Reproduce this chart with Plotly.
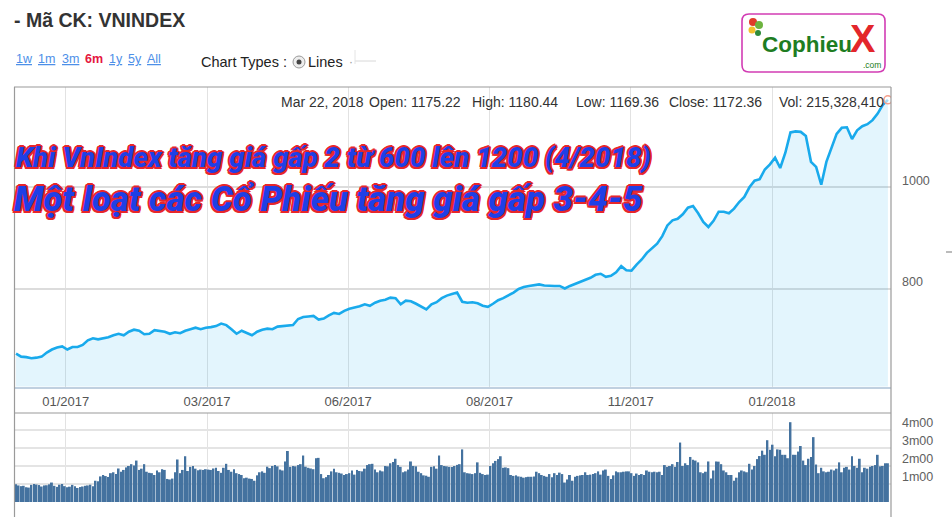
import plotly.graph_objects as go

W, H = 952, 517

# ---------------- data ----------------
title_text = "- Mã CK: VNINDEX"
range_links = ["1w", "1m", "3m", "6m", "1y", "5y", "All"]
active_range = "6m"
info_items = ["Mar 22, 2018", "Open: 1175.22", "High: 1180.44", "Low: 1169.36",
              "Close: 1172.36", "Vol: 215,328,410"]
headline_1 = "Khi VnIndex tăng giá gấp 2 từ 600 lên 1200 (4/2018)"
headline_2 = "Một loạt các Cổ Phiếu tăng giá gấp 3-4-5"

tick_labels = ["01/2017", "03/2017", "06/2017", "08/2017", "11/2017", "01/2018"]
tick_days = [19.4, 74.5, 129.5, 184.6, 239.7, 294.8]   # trading-day index

price_ticks = [800, 1000]
vol_ticks = [100, 200, 300, 400]                       # millions of shares
vol_tick_labels = ["1m00", "2m00", "3m00", "4m00"]

close_step = 2   # one close value every 2 trading days
close_values = [
    673, 667, 666, 664, 665, 667, 675, 681, 685, 687,
    681, 686, 686, 690, 699, 703, 701, 703, 705, 709,
    712, 709, 716, 720, 718, 711, 712, 719, 718, 716,
    712, 715, 713, 718, 721, 724, 721, 724, 725, 727,
    732, 729, 721, 712, 718, 713, 709, 716, 720, 722,
    721, 726, 727, 728, 729, 741, 745, 746, 747, 740,
    742, 748, 753, 751, 757, 761, 763, 766, 770, 767,
    773, 777, 779, 783, 782, 770, 777, 776, 771, 765,
    760, 770, 774, 782, 787, 790, 793, 775, 773, 774,
    772, 767, 765, 771, 778, 782, 787, 793, 800, 804,
    806, 807, 809, 807, 806, 806, 806, 801, 806, 810,
    813, 817, 822, 828, 830, 824, 826, 833, 845, 837,
    836, 848, 858, 871, 881, 889, 904, 925, 935, 938,
    947, 960, 963, 949, 932, 922, 934, 952, 952, 949,
    958, 971, 981, 1000, 1013, 1016, 1035, 1045, 1058, 1038,
    1068, 1108, 1110, 1109, 1101, 1050, 1040, 1005, 1050, 1079,
    1105, 1117, 1118, 1095, 1112, 1120, 1124, 1132, 1145, 1162,
    1172,
]

volume_millions = [
    98, 92, 88, 90, 82, 80, 95, 100, 97, 94,
    86, 92, 93, 98, 108, 90, 84, 96, 100, 88,
    82, 85, 95, 88, 78, 83, 86, 90, 92, 96,
    88, 118, 115, 142, 150, 144, 139, 160, 165, 155,
    186, 168, 178, 192, 200, 210, 202, 230, 178, 185,
    210, 168, 162, 160, 150, 175, 165, 182, 178, 128,
    125, 130, 165, 236, 160, 178, 254, 172, 195, 200,
    185, 176, 180, 178, 182, 180, 178, 186, 190, 172,
    162, 190, 212, 178, 168, 182, 160, 155, 150, 132,
    135, 130, 128, 118, 148, 165, 170, 162, 196, 188,
    200, 205, 198, 180, 175, 225, 283, 195, 200, 198,
    205, 210, 258, 196, 190, 186, 182, 243, 245, 155,
    132, 138, 150, 170, 185, 165, 162, 158, 150, 155,
    160, 175, 152, 178, 172, 170, 185, 205, 210, 212,
    180, 165, 175, 170, 200, 198, 215, 222, 240, 205,
    195, 165, 170, 180, 225, 200, 198, 168, 160, 148,
    146, 140, 195, 198, 185, 258, 205, 200, 198, 195,
    194, 200, 206, 210, 292, 165, 160, 158, 155, 160,
    220, 162, 155, 150, 152, 200, 215, 228, 238, 254,
    190, 192, 188, 150, 145, 148, 142, 140, 135, 138,
    140, 140, 142, 168, 160, 150, 145, 140, 155, 138,
    160, 150, 163, 155, 108, 125, 150, 118, 140, 145,
    148, 150, 165, 150, 152, 155, 160, 170, 152, 175,
    180, 145, 128, 148, 170, 165, 165, 168, 170, 170,
    160, 145, 158, 150, 155, 150, 175, 168, 165, 168,
    165, 168, 150, 205, 195, 200, 210, 195, 222, 330,
    200, 215, 205, 250, 235, 230, 220, 165, 160, 168,
    225, 130, 175, 225, 224, 210, 175, 165, 150, 150,
    118, 135, 165, 175, 170, 165, 212, 180, 200, 238,
    255, 285, 262, 343, 290, 318, 254, 292, 290, 262,
    262, 243, 443, 262, 262, 280, 311, 230, 205, 240,
    250, 360, 208, 160, 190, 170, 165, 168, 180, 175,
    185, 220, 165, 190, 195, 180, 254, 200, 190, 240,
    165, 190, 185, 195, 200, 205, 262, 198, 200, 215,
    215,
]

close_days = [i * close_step for i in range(len(close_values))]
volume_days = list(range(len(volume_millions)))

# ---------------- helpers (pixel -> paper) ----------------
def fx(px):
    return px / W

def fy(py):
    return 1 - py / H

FONT = "Liberation Sans, Arial, sans-serif"

fig = go.Figure()

fig.add_trace(go.Scatter(
    x=close_days, y=close_values, mode="lines",
    line=dict(color="#19AAEC", width=2.6),
    fill="tozeroy", fillcolor="rgba(26,173,238,0.12)",
    xaxis="x", yaxis="y", hoverinfo="skip", showlegend=False,
))
fig.add_trace(go.Scatter(
    x=[close_days[-1]], y=[close_values[-1]], mode="markers",
    marker=dict(size=8, color="rgba(255,255,255,0.6)",
                line=dict(color="#F4A08C", width=1.5)),
    xaxis="x", yaxis="y", hoverinfo="skip", showlegend=False,
))
fig.add_trace(go.Bar(
    x=volume_days, y=volume_millions, width=0.75,
    marker=dict(color="#44729F", line=dict(width=0)),
    xaxis="x2", yaxis="y2", hoverinfo="skip", showlegend=False,
))

x_dom = [fx(15), fx(891)]
x_range = [-0.4, 341.2]

fig.update_layout(
    width=W, height=H, margin=dict(l=0, r=0, t=0, b=0),
    paper_bgcolor="white", plot_bgcolor="white", template="none",
    font=dict(family=FONT, color="#333333"),
    bargap=0.25,
    xaxis=dict(domain=x_dom, range=x_range, anchor="y",
               tickvals=tick_days, ticktext=tick_labels,
               showgrid=True, gridcolor="#E2E2E2", gridwidth=1,
               showline=True, linecolor="#C0D0E0", linewidth=1.5,
               ticks="", zeroline=False, ticklabelstandoff=2,
               tickfont=dict(size=13, color="#555555", family=FONT)),
    yaxis=dict(domain=[fy(386.5), fy(87)], range=[608.3, 1197.2], anchor="x",
               side="right", tickvals=price_ticks,
               showgrid=True, gridcolor="#DCDCDC", gridwidth=1.5,
               zeroline=False, showline=False, ticks="",
               ticklabelstandoff=10, ticklabelshift=-7,
               tickfont=dict(size=12.5, color="#606060", family=FONT)),
    xaxis2=dict(domain=x_dom, range=x_range, anchor="y2",
                tickvals=tick_days, showticklabels=False,
                showgrid=True, gridcolor="#E2E2E2", gridwidth=1,
                showline=False, ticks="", zeroline=False),
    yaxis2=dict(domain=[fy(502), fy(413)], range=[0, 494], anchor="x2",
                side="right", tickvals=vol_ticks, ticktext=vol_tick_labels,
                showgrid=True, gridcolor="#E4E4E4", gridwidth=2,
                zeroline=False, showline=False, ticks="",
                ticklabelstandoff=10, ticklabelshift=-7,
                tickfont=dict(size=12.5, color="#606060", family=FONT)),
)

shapes = []
frame = dict(color="#9A9A9A", width=1.2)
shapes.append(dict(type="line", xref="paper", yref="paper", x0=fx(14), x1=fx(891), y0=fy(87), y1=fy(87), line=frame))
shapes.append(dict(type="line", xref="paper", yref="paper", x0=fx(14.5), x1=fx(14.5), y0=fy(87), y1=fy(517), line=frame))
shapes.append(dict(type="line", xref="paper", yref="paper", x0=fx(891), x1=fx(891), y0=fy(87), y1=fy(517), line=frame))
shapes.append(dict(type="line", xref="paper", yref="paper", x0=fx(14), x1=fx(891), y0=fy(413), y1=fy(413), line=frame))
# small dash at far right
shapes.append(dict(type="line", xref="paper", yref="paper", x0=fx(946), x1=fx(952), y0=fy(252), y1=fy(252), line=dict(color="#BBBBBB", width=2)))

# radio button
shapes.append(dict(type="circle", xref="paper", yref="paper", x0=fx(293), x1=fx(305), y0=fy(68), y1=fy(56),
                   line=dict(color="#9A9A9A", width=1), fillcolor="#EDEDED"))
shapes.append(dict(type="circle", xref="paper", yref="paper", x0=fx(296.5), x1=fx(301.5), y0=fy(64.5), y1=fy(59.5),
                   line=dict(width=0), fillcolor="#444444"))
shapes.append(dict(type="line", xref="paper", yref="paper", x0=fx(355), x1=fx(376), y0=fy(61), y1=fy(61), line=dict(color="#D8D8D8", width=1)))
shapes.append(dict(type="line", xref="paper", yref="paper", x0=fx(355), x1=fx(355), y0=fy(50), y1=fy(64), line=dict(color="#E4E4E4", width=1)))

# logo rounded box
def rounded_rect(x0, y0, x1, y1, r):
    X = lambda v: fx(v)
    Y = lambda v: fy(v)
    return (f"M {X(x0+r)},{Y(y0)} L {X(x1-r)},{Y(y0)} Q {X(x1)},{Y(y0)} {X(x1)},{Y(y0+r)} "
            f"L {X(x1)},{Y(y1-r)} Q {X(x1)},{Y(y1)} {X(x1-r)},{Y(y1)} "
            f"L {X(x0+r)},{Y(y1)} Q {X(x0)},{Y(y1)} {X(x0)},{Y(y1-r)} "
            f"L {X(x0)},{Y(y0+r)} Q {X(x0)},{Y(y0)} {X(x0+r)},{Y(y0)} Z")

shapes.append(dict(type="path", xref="paper", yref="paper", path=rounded_rect(742, 14, 885, 72, 7),
                   line=dict(color="#D23CB4", width=1.6), fillcolor="white"))
# logo icon (small leaves)
for (cx, cy, r, col) in [(753, 22, 4, "#E03A2A"), (759, 25, 4, "#6DB33F"), (752, 30, 3.5, "#F2C12E"), (758, 33, 3, "#2E8B3A")]:
    shapes.append(dict(type="circle", xref="paper", yref="paper", x0=fx(cx - r), x1=fx(cx + r),
                       y0=fy(cy + r), y1=fy(cy - r), line=dict(width=0), fillcolor=col))

fig.update_layout(shapes=shapes)

ann = []
def text(x, y, s, size, color="#333333", family=FONT, anchor="left", **kw):
    ann.append(dict(xref="paper", yref="paper", x=fx(x), y=fy(y), text=s, showarrow=False,
                    xanchor=anchor, yanchor="middle",
                    font=dict(size=size, color=color, family=family, **kw)))

text(12, 20, f"<b>{title_text}</b>", 19.5, "#333333")

link_x = [14, 36, 60, 83, 107, 126, 145]
for lx, lab in zip(link_x, range_links):
    if lab == active_range:
        text(lx, 59, f"<b>{lab}</b>", 12.5, "#E5173F")
    else:
        text(lx, 59, f"<u>{lab}</u>", 12.5, "#4D8FE8")

text(199, 62, "Chart Types :", 14.5, "#222222")
text(306, 62, "Lines", 14.5, "#222222")
text(347, 62, "·", 12, "#999999")

info_x = [279, 367, 470, 574, 667, 777]
for ix, s in zip(info_x, info_items):
    text(ix, 102, s, 14, "#333333")

outline = ("2px 0 0 #E8262B, -2px 0 0 #E8262B, 0 2px 0 #E8262B, 0 -2px 0 #E8262B, "
           "1.5px 1.5px 0 #E8262B, -1.5px -1.5px 0 #E8262B, 1.5px -1.5px 0 #E8262B, -1.5px 1.5px 0 #E8262B")
text(14, 158, headline_1, 27.6, "#1F3FE6", family="Roboto", weight=900, style="italic", shadow=outline)
text(12, 199, headline_2, 34.8, "#1F3FE6", family="Roboto", weight=900, style="italic", shadow=outline)

# logo text
text(760, 44, "<b>Cophieu</b>", 22.5, "#1E7D22", family="Liberation Sans, Arial, sans-serif")
text(848, 39, "<b>X</b>", 38, "#E3262B", family="Liberation Sans, Arial, sans-serif")
text(861, 65, ".com", 8.5, "#1E7D22")

fig.update_layout(annotations=ann)

fig.write_html("out.html", config={"displayModeBar": False},
               post_script="document.body.style.margin='0';document.body.style.overflow='hidden';")
